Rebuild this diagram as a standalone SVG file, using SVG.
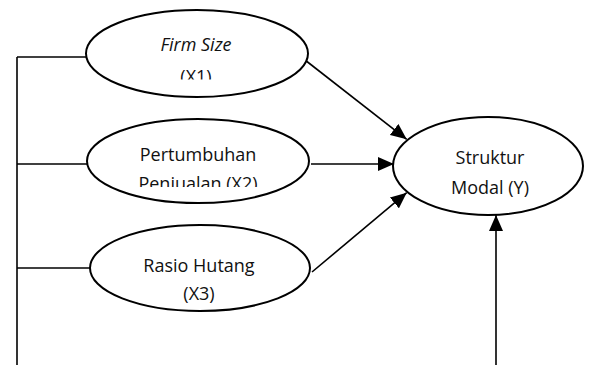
<svg xmlns="http://www.w3.org/2000/svg" width="594" height="365" viewBox="0 0 594 365">
<style>
.node{fill:#fff;stroke:#000;stroke-width:2}
.lbl{font-family:"Open Sans","Noto Sans",sans-serif;font-size:18px;fill:#111;text-anchor:middle}
.con{stroke:#000;stroke-width:1.6;fill:none}
</style>
<defs>
<marker id="ah" markerUnits="userSpaceOnUse" markerWidth="16" markerHeight="14" refX="16" refY="7" orient="auto">
<path d="M0,0 L16,7 L0,14 Z" fill="#000"/>
</marker>
<clipPath id="c1"><rect x="0" y="0" width="594" height="79.5"/></clipPath>
<clipPath id="c2"><rect x="0" y="100" width="594" height="87"/></clipPath>
<clipPath id="c3"><rect x="0" y="220" width="594" height="84"/></clipPath>
</defs>
<g id="connectors">
<path class="con" d="M17,57 V365"/>
<path class="con" d="M17,57 H86"/>
<path class="con" d="M17,164 H87"/>
<path class="con" d="M17,268 H90"/>
<path class="con" d="M305,60 L406.7,139.3" marker-end="url(#ah)"/>
<path class="con" d="M311,164 L394,164" marker-end="url(#ah)"/>
<path class="con" d="M312,272 L406.7,192.7" marker-end="url(#ah)"/>
<path class="con" d="M496,365 L496,215" marker-end="url(#ah)"/>
</g>
<g id="x1">
<ellipse class="node" cx="197" cy="53.5" rx="111" ry="43.5"/>
<g clip-path="url(#c1)">
<text class="lbl" x="196" y="51" font-style="italic">Firm Size</text>
<text class="lbl" x="196" y="83">(X1)</text>
</g>
</g>
<g id="x2">
<ellipse class="node" cx="198" cy="161" rx="111" ry="42"/>
<g clip-path="url(#c2)">
<text class="lbl" x="198" y="161">Pertumbuhan</text>
<text class="lbl" x="198" y="190">Penjualan (X2)</text>
</g>
</g>
<g id="x3">
<ellipse class="node" cx="200" cy="268" rx="110" ry="43"/>
<g clip-path="url(#c3)">
<text class="lbl" x="199" y="272">Rasio Hutang</text>
<text class="lbl" x="199" y="300">(X3)</text>
</g>
</g>
<g id="y">
<ellipse class="node" cx="488" cy="166" rx="95" ry="49"/>
<text class="lbl" x="490" y="164">Struktur</text>
<text class="lbl" x="490" y="194">Modal (Y)</text>
</g>
</svg>
